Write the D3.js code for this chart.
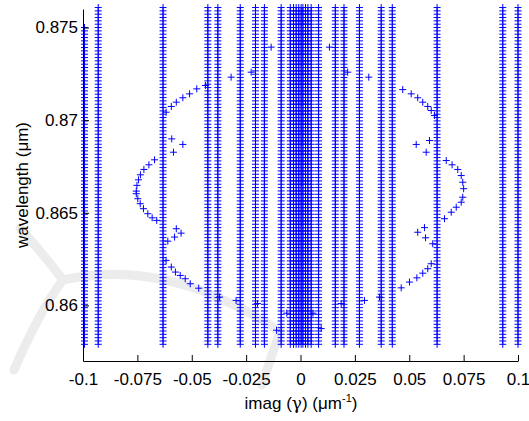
<!DOCTYPE html>
<html><head><meta charset="utf-8">
<script src="https://cdn.jsdelivr.net/npm/d3@7"></script>
<style>body{margin:0;background:#fff}svg{display:block}text{font-family:"Liberation Sans",Arial,sans-serif}</style>
</head><body><div id="chart"></div>
<script>
// wavelength sample grid (um)
const wavelengths = [0.85790,0.85808,0.85826,0.85844,0.85862,0.85880,0.85898,0.85916,0.85934,0.85952,
0.85970,0.85988,0.86006,0.86024,0.86042,0.86060,0.86078,0.86096,0.86114,0.86132,
0.86150,0.86168,0.86186,0.86204,0.86222,0.86240,0.86258,0.86276,0.86294,0.86312,
0.86330,0.86348,0.86366,0.86384,0.86402,0.86420,0.86438,0.86456,0.86474,0.86492,
0.86510,0.86528,0.86546,0.86564,0.86582,0.86600,0.86618,0.86636,0.86654,0.86672,
0.86690,0.86708,0.86726,0.86744,0.86762,0.86780,0.86798,0.86816,0.86834,0.86852,
0.86870,0.86888,0.86906,0.86924,0.86942,0.86960,0.86978,0.86996,0.87014,0.87032,
0.87050,0.87068,0.87086,0.87104,0.87122,0.87140,0.87158,0.87176,0.87194,0.87212,
0.87230,0.87248,0.87266,0.87284,0.87302,0.87320,0.87338,0.87356,0.87374,0.87392,
0.87410,0.87428,0.87446,0.87464,0.87482,0.87500,0.87518,0.87536,0.87554,0.87572,
0.87590,0.87608];

// imag(gamma) of the nearly constant branches, and the top wavelength each reaches
const columnImag = [-0.0993,-0.0930,-0.0632,-0.0426,-0.0380,-0.0277,-0.0207,-0.0166,-0.0089,
  -0.0047,-0.0032,-0.0020,-0.0008,0.0003,0.0011,0.0023,0.0034,0.0049,0.0083,
  0.0160,0.0200,0.0271,0.0371,0.0422,0.0628,0.0930,0.1000];
const columnTop = [0.8750,0.8762,0.8762,0.8762,0.8762,0.8762,0.8762,0.8762,0.8762,
  0.8762,0.8762,0.8762,0.8762,0.8762,0.8762,0.8762,0.8762,0.8762,0.8762,
  0.8762,0.8762,0.8762,0.8762,0.8762,0.8762,0.8762,0.8762];

// curved branches (left and right)
const arcImag = [-0.0227,-0.0319,-0.0437,-0.0477,-0.0510,-0.0541,-0.0571,-0.0594,-0.0618,
  -0.0671,-0.0697,-0.0720,-0.0736,-0.0745,-0.0752,-0.0755,-0.0755,-0.0748,-0.0737,-0.0722,-0.0702,-0.0682,-0.0661,
  -0.0618,-0.0594,-0.0575,-0.0553,-0.0530,-0.0507,-0.0468,-0.0296,
  0.0217,0.0314,0.0470,0.0509,0.0539,0.0562,0.0585,0.0601,0.0616,
  0.0670,0.0697,0.0723,0.0739,0.0746,0.0750,0.0746,0.0739,0.0716,0.0693,0.0662,
  0.0601,0.0585,0.0562,0.0535,0.0501,0.0463,0.0294];
const arcWavelength = [0.87259,0.87232,0.87187,0.87169,0.87142,0.87121,0.87097,0.87074,0.87043,
  0.86786,0.86759,0.86734,0.86705,0.86678,0.86648,0.86617,0.86603,0.86576,0.86549,0.86522,0.86495,0.86473,0.86459,
  0.86243,0.86207,0.86180,0.86162,0.86144,0.86117,0.86093,0.86027,
  0.87259,0.87232,0.87165,0.87142,0.87121,0.87097,0.87074,0.87052,0.87025,
  0.86782,0.86759,0.86734,0.86701,0.86665,0.86630,0.86584,0.86557,0.86530,0.86503,0.86468,
  0.86225,0.86198,0.86174,0.86149,0.86126,0.86095,0.86027];

// scattered points near the branch crossings
const strayImag = [-0.0592,-0.0541,-0.0584,-0.0571,-0.0549,-0.0579,-0.0610,-0.0372,
  0.0593,0.0532,0.0578,0.0539,0.0570,0.0575,0.0608,0.0363,
  -0.0135,0.0133,-0.0063,0.0057,-0.0110,0.0095,-0.0198,0.0187];
const strayWavelength = [0.86899,0.86869,0.86827,0.86414,0.86390,0.86369,0.86347,0.86045,
  0.86890,0.86869,0.86827,0.86395,0.86420,0.86365,0.86333,0.86045,
  0.87394,0.87394,0.85958,0.85958,0.85866,0.85875,0.86010,0.86010];

const xTicks = [-0.1,-0.075,-0.05,-0.025,0,0.025,0.05,0.075,0.1];
const xTickLabels = ["-0.1","-0.075","-0.05","-0.025","0","0.025","0.05","0.075","0.1"];
const yTicks = [0.86,0.865,0.87,0.875];
const yTickLabels = ["0.86","0.865","0.87","0.875"];

const W = 529, H = 421;
const m = {left:83, right:11, top:9, bottom:60};
const svg = d3.select("#chart").append("svg").attr("width",W).attr("height",H);

// faint publisher watermark behind the chart
const wm = svg.append("g").attr("fill","none").attr("stroke","#ececec").attr("stroke-width",9).attr("stroke-linecap","round");
wm.append("path").attr("d","M14,370 Q40,310 63,280 Q40,250 20,228");
wm.append("path").attr("d","M63,280 Q130,265 200,290 Q250,310 280,332");
wm.append("path").attr("d","M280,332 Q270,360 262,385");

const x = d3.scaleLinear().domain([-0.1,0.1]).range([m.left, W-m.right]);
const y = d3.scaleLinear().domain([0.857,0.876]).range([H-m.bottom, m.top]);

const plus = "M-3.5,0H3.5M0,-3.5V3.5";
const g = svg.append("g");

const colPts = [];
columnImag.forEach((c,i)=>{
  wavelengths.forEach(w=>{ if (w <= columnTop[i]+1e-9) colPts.push([c,w]); });
});
const arcPts = arcImag.map((v,i)=>[v,arcWavelength[i]]);
const strayPts = strayImag.map((v,i)=>[v,strayWavelength[i]]);

function drawPts(pts,color){
  g.selectAll(null).data(pts).enter().append("path")
    .attr("d",plus)
    .attr("transform",d=>`translate(${x(d[0])},${y(d[1])})`)
    .attr("fill","none").attr("stroke",color).attr("stroke-width",1);
}
drawPts(colPts,"#0000ff");
drawPts(arcPts,"#0000ff");
drawPts(strayPts,"#0000ff");

// axes
const xAxis = d3.axisBottom(x).tickValues(xTicks).tickFormat((d,i)=>xTickLabels[i]).tickSizeInner(-6).tickSizeOuter(0).tickPadding(12);
const gx = svg.append("g").attr("transform",`translate(0,${H-m.bottom})`).call(xAxis);
const yAxis = d3.axisLeft(y).tickValues(yTicks).tickFormat((d,i)=>yTickLabels[i]).tickSizeInner(-6).tickSizeOuter(0).tickPadding(5);
const gy = svg.append("g").attr("transform",`translate(${m.left},0)`).call(yAxis);
[gx,gy].forEach(a=>{
  a.selectAll("text").attr("font-size",17).attr("fill","#000").attr("font-family","Liberation Sans, Arial, sans-serif");
  a.selectAll("line,path").attr("stroke","#000");
});

svg.append("text").attr("x",301).attr("y",409).attr("text-anchor","middle")
  .attr("font-size",17).html('imag (<tspan font-family="DejaVu Serif">γ</tspan>) (μm<tspan dy="-7" font-size="11">-1</tspan><tspan dy="7">)</tspan>');
svg.append("text").attr("transform","translate(28,185) rotate(-90)").attr("text-anchor","middle")
  .attr("font-size",17).text("wavelength (μm)");
</script></body></html>
